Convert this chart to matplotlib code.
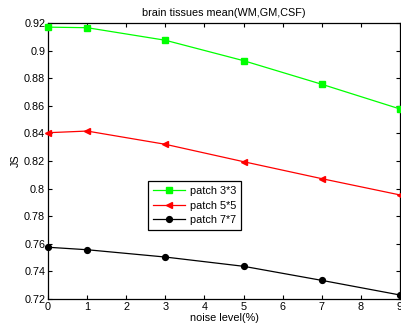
import matplotlib
matplotlib.use("Agg")
import matplotlib.pyplot as plt

plt.rcParams['font.family'] = ['Liberation Sans', 'DejaVu Sans']

noise = [0, 1, 3, 5, 7, 9]
patch3 = [0.9170, 0.9166, 0.9075, 0.8927, 0.8756, 0.8577]
patch5 = [0.8405, 0.8417, 0.8321, 0.8195, 0.8072, 0.7954]
patch7 = [0.7575, 0.7557, 0.7504, 0.7437, 0.7335, 0.7229]
labels = ['patch 3*3', 'patch 5*5', 'patch 7*7']
yticks = [0.72, 0.74, 0.76, 0.78, 0.8, 0.82, 0.84, 0.86, 0.88, 0.9, 0.92]
yticklabels = ['0.72', '0.74', '0.76', '0.78', '0.8', '0.82', '0.84', '0.86', '0.88', '0.9', '0.92']

fig = plt.figure(figsize=(4.02, 3.30), dpi=100)
ax = fig.add_axes([48/402, 1-299/330, 352/402, 276/330])

ax.plot(noise, patch3, color='#00ff00', marker='s', markersize=4, lw=0.9, label=labels[0], clip_on=False, zorder=3)
ax.plot(noise, patch5, color='#ff0000', marker='<', markersize=5, lw=0.9, label=labels[1], clip_on=False, zorder=3)
ax.plot(noise, patch7, color='#000000', marker='o', markersize=4.2, lw=0.9, label=labels[2], clip_on=False, zorder=3)

ax.set_xlim(0, 9)
ax.set_ylim(0.72, 0.92)
ax.set_xticks(range(10))
ax.set_yticks(yticks)
ax.set_yticklabels(yticklabels)
ax.tick_params(direction='in', top=True, right=True, labelsize=7.8, length=3, width=0.8, pad=2)
for s in ax.spines.values():
    s.set_linewidth(0.9)

ax.set_title('brain tissues mean(WM,GM,CSF)', fontsize=7.8, pad=5)
ax.set_xlabel('noise level(%)', fontsize=7.8, labelpad=1)
ax.set_ylabel('JS', fontsize=7.8, labelpad=2)

leg = ax.legend(loc='lower left', bbox_to_anchor=(0.284, 0.25), fontsize=7.8, fancybox=False,
                edgecolor='black', framealpha=1, borderpad=0.45, labelspacing=0.42,
                handlelength=3.0, handletextpad=0.45, borderaxespad=0)
leg.get_frame().set_linewidth(0.9)

fig.savefig('out.png', dpi=100)
